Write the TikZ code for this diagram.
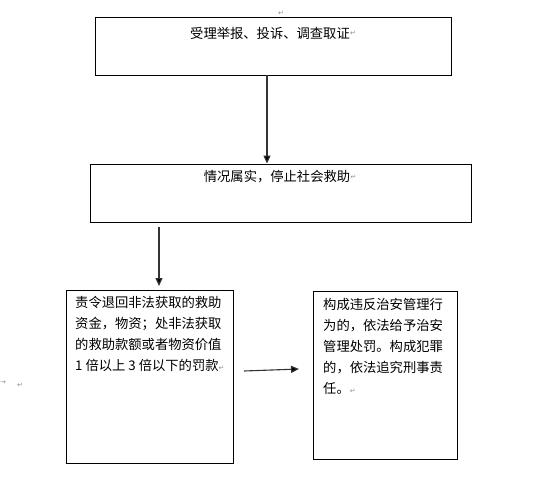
\documentclass[tikz,border=0pt]{standalone}
\usepackage{fontspec}
\newfontfamily\cjk{Noto Sans CJK SC}
\newfontfamily\symf{DejaVu Sans}
\usetikzlibrary{arrows.meta}
\tikzset{
  boxnode/.style={draw=black, line width=0.9pt, rectangle, inner sep=0pt},
  txt/.style={font=\cjk\fontsize{13.3}{21}\selectfont, inner sep=0pt, align=left},
  arr/.style={line width=1.1pt, draw=black!80, -{Triangle[length=8pt,width=7pt,fill=black]}},
  pmark/.style={font=\symf\fontsize{7}{7}\selectfont, text=black!45, inner sep=0pt}
}
\begin{document}
\begin{tikzpicture}[x=1pt,y=-1pt]
\useasboundingbox (0,0) rectangle (543,482);
% boxes
\node[boxnode, minimum width=356pt, minimum height=58pt] (b1) at (273,46) {};
\node[boxnode, minimum width=381pt, minimum height=58pt] (b2) at (280.5,193) {};
\node[boxnode, minimum width=167pt, minimum height=173pt] (b3) at (149.5,376.5) {};
\node[boxnode, minimum width=144pt, minimum height=168pt] (b4) at (385,375) {};
% texts
\node[txt, anchor=center] (t1) at (270,33) {受理举报、投诉、调查取证};
\node[pmark, anchor=west] (m1) at (t1.east) {↵};
\node[txt, anchor=center] (t2) at (277,177) {情况属实，停止社会救助};
\node[pmark, anchor=west] (m2) at (t2.east) {↵};
\node[txt, anchor=north west] (t3) at (75,296) {责令退回非法获取的救助\\资金，物资；处非法获取\\的救助款额或者物资价值\\1 倍以上 3 倍以下的罚款{\symf\fontsize{7}{7}\selectfont\color{black!45}↵}};
\node[txt, anchor=north west] (t4) at (323,298) {构成违反治安管理行\\为的，依法给予治安\\管理处罚。构成犯罪\\的，依法追究刑事责\\任。{\symf\fontsize{7}{7}\selectfont\color{black!45}↵}};
% paragraph marks outside boxes
\node[pmark] (m0) at (281,13) {↵};
\node[pmark] (m5) at (3,383) {→};
\node[pmark] (m6) at (20,385) {↵};
% connectors
\coordinate (a1s) at ([xshift=-6pt]b1.south);
\coordinate (a1e) at (a1s |- b2.north);
\draw[arr] (a1s) -- (a1e);
\coordinate (a2s) at (159,227);
\coordinate (a2e) at (159,286);
\draw[arr] (a2s) -- (a2e);
\coordinate (a3s) at (244,371);
\coordinate (a3e) at (299,369);
\draw[arr] (a3s) -- (a3e);
\end{tikzpicture}
\end{document}
